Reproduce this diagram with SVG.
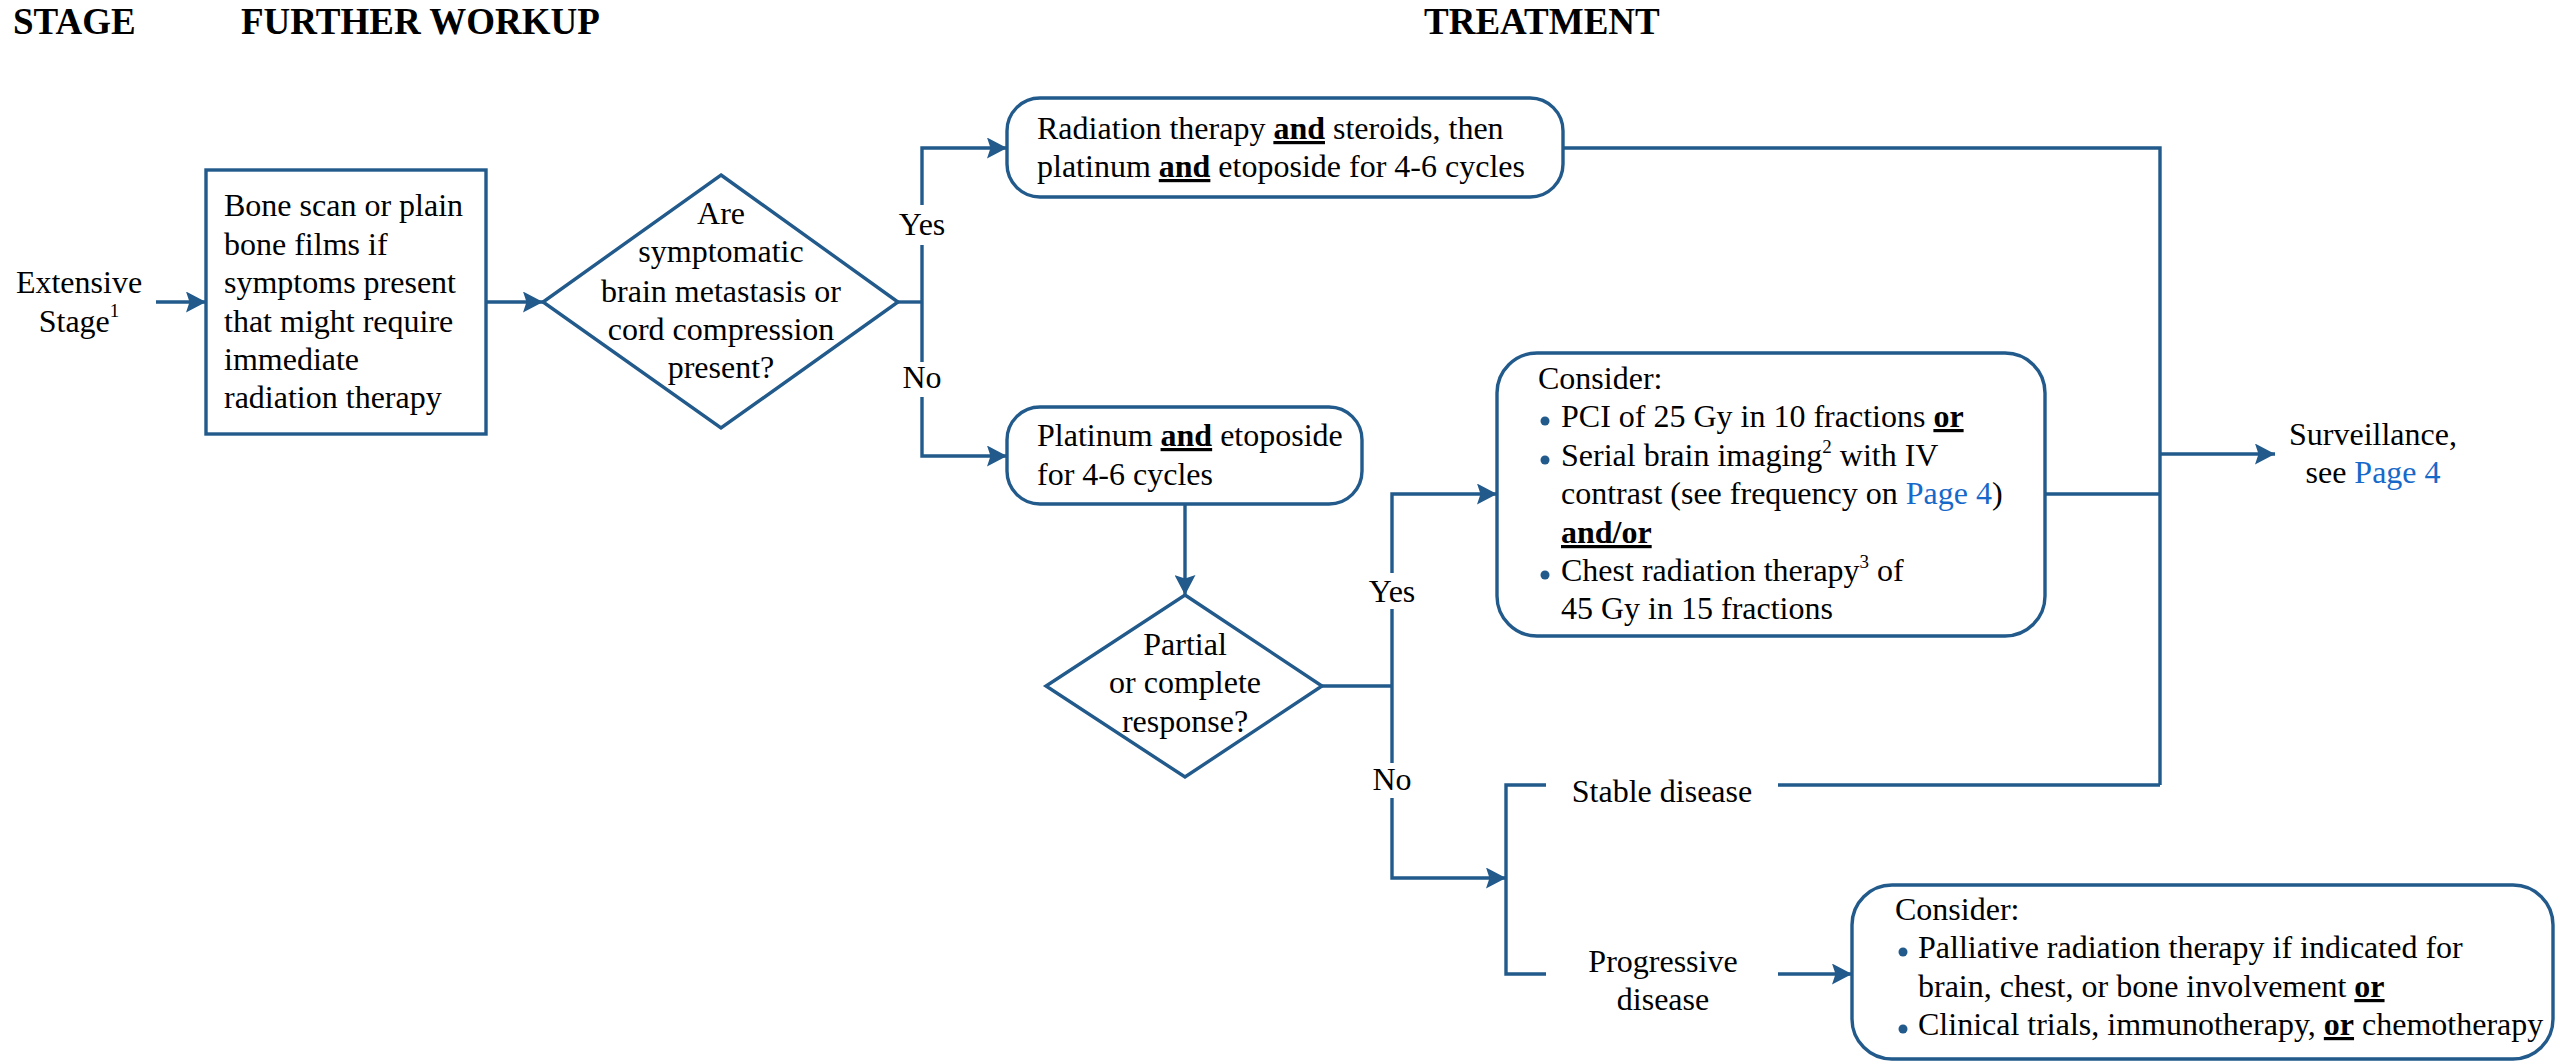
<svg xmlns="http://www.w3.org/2000/svg" width="2567" height="1061" viewBox="0 0 2567 1061">
  <style>
    .t { font-family: "Liberation Serif", "Times New Roman", serif; font-size: 32px; fill: #000; }
    .h { font-family: "Liberation Serif", "Times New Roman", serif; font-size: 37px; font-weight: bold; fill: #000; }
    .m { text-anchor: middle; }
    .u { font-weight: bold; text-decoration: underline; }
    .lk { fill: #1769c9; }
    .sup { font-size: 19px; }
    .box { fill: #fff; stroke: #215a8b; stroke-width: 3.4; }
    .ln { fill: none; stroke: #215a8b; stroke-width: 3.4; }
    .dot { fill: #215a8b; }
  </style>
  <defs>
    <marker id="ah" markerUnits="userSpaceOnUse" markerWidth="21" markerHeight="21" refX="20" refY="10.5" orient="auto">
      <path d="M0,0 L20,10.5 L0,21 L3.5,10.5 Z" fill="#215a8b"/>
    </marker>
  </defs>
  <rect width="2567" height="1061" fill="#fff"/>

  <!-- column headings -->
  <g id="headings">
    <text class="h" x="13" y="34">STAGE</text>
    <text class="h" x="241" y="34">FURTHER WORKUP</text>
    <text class="h" x="1424" y="34">TREATMENT</text>
  </g>

  <!-- connectors -->
  <g id="connectors">
    <path class="ln" d="M156,302 H206" marker-end="url(#ah)"/>
    <path class="ln" d="M486,302 H543" marker-end="url(#ah)"/>
    <!-- first decision: yes / no trunk -->
    <path class="ln" d="M898,302 H922"/>
    <path class="ln" d="M922,205 V148 H1007" marker-end="url(#ah)"/>
    <path class="ln" d="M922,245 V362"/>
    <path class="ln" d="M922,397 V456 H1007" marker-end="url(#ah)"/>
    <!-- platinum to response decision -->
    <path class="ln" d="M1185,504 V595" marker-end="url(#ah)"/>
    <!-- second decision: yes / no trunk -->
    <path class="ln" d="M1322,686 H1392"/>
    <path class="ln" d="M1392,573 V494 H1497" marker-end="url(#ah)"/>
    <path class="ln" d="M1392,609 V763"/>
    <path class="ln" d="M1392,798 V878 H1506" marker-end="url(#ah)"/>
    <!-- stable / progressive bracket -->
    <path class="ln" d="M1546,785 H1506 V974 H1546"/>
    <path class="ln" d="M1778,974 H1852" marker-end="url(#ah)"/>
    <!-- collector to surveillance -->
    <path class="ln" d="M1563,148 H2160 V785"/>
    <path class="ln" d="M2045,494 H2160"/>
    <path class="ln" d="M1778,785 H2160"/>
    <path class="ln" d="M2160,454 H2275" marker-end="url(#ah)"/>
  </g>

  <g id="stage">
    <text class="t m" x="79" y="293">Extensive</text>
    <text class="t m" x="79" y="332">Stage<tspan class="sup" dy="-15">1</tspan></text>
  </g>

  <g id="workup">
    <rect class="box" x="206" y="170" width="280" height="264"/>
    <text class="t" x="224" y="216">Bone scan or plain</text>
    <text class="t" x="224" y="255">bone films if</text>
    <text class="t" x="224" y="293">symptoms present</text>
    <text class="t" x="224" y="332">that might require</text>
    <text class="t" x="224" y="370">immediate</text>
    <text class="t" x="224" y="408">radiation therapy</text>
  </g>

  <g id="decision-brain">
    <path class="box" d="M721,175 L898,302 L721,428 L543,302 Z"/>
    <text class="t m" x="721" y="224">Are</text>
    <text class="t m" x="721" y="262">symptomatic</text>
    <text class="t m" x="721" y="302">brain metastasis or</text>
    <text class="t m" x="721" y="340">cord compression</text>
    <text class="t m" x="721" y="378">present?</text>
  </g>
  <g id="labels-brain">
    <text class="t m" x="922" y="235">Yes</text>
    <text class="t m" x="922" y="388">No</text>
  </g>

  <g id="rt-steroids">
    <rect class="box" x="1007" y="98" width="556" height="99" rx="33"/>
    <text class="t" x="1037" y="139">Radiation therapy <tspan class="u">and</tspan> steroids, then</text>
    <text class="t" x="1037" y="177">platinum <tspan class="u">and</tspan> etoposide for 4-6 cycles</text>
  </g>

  <g id="platinum-etoposide">
    <rect class="box" x="1007" y="407" width="355" height="97" rx="33"/>
    <text class="t" x="1037" y="446">Platinum <tspan class="u">and</tspan> etoposide</text>
    <text class="t" x="1037" y="485">for 4-6 cycles</text>
  </g>

  <g id="decision-response">
    <path class="box" d="M1185,595 L1322,686 L1185,777 L1046,686 Z"/>
    <text class="t m" x="1185" y="655">Partial</text>
    <text class="t m" x="1185" y="693">or complete</text>
    <text class="t m" x="1185" y="732">response?</text>
  </g>
  <g id="labels-response">
    <text class="t m" x="1392" y="602">Yes</text>
    <text class="t m" x="1392" y="790">No</text>
  </g>

  <g id="consider-pci">
    <rect class="box" x="1497" y="353" width="548" height="283" rx="40"/>
    <text class="t" x="1538" y="389">Consider:</text>
    <circle class="dot" cx="1545" cy="421" r="4.5"/>
    <text class="t" x="1561" y="427">PCI of 25 Gy in 10 fractions <tspan class="u">or</tspan></text>
    <circle class="dot" cx="1545" cy="460" r="4.5"/>
    <text class="t" x="1561" y="466">Serial brain imaging<tspan class="sup" dy="-13">2</tspan><tspan dy="13"> with IV</tspan></text>
    <text class="t" x="1561" y="504">contrast (see frequency on <tspan class="lk">Page 4</tspan>)</text>
    <text class="t" x="1561" y="543"><tspan class="u">and/or</tspan></text>
    <circle class="dot" cx="1545" cy="575" r="4.5"/>
    <text class="t" x="1561" y="581">Chest radiation therapy<tspan class="sup" dy="-13">3</tspan><tspan dy="13"> of</tspan></text>
    <text class="t" x="1561" y="619">45 Gy in 15 fractions</text>
  </g>

  <g id="stable">
    <text class="t m" x="1662" y="802">Stable disease</text>
  </g>

  <g id="progressive">
    <text class="t m" x="1663" y="972">Progressive</text>
    <text class="t m" x="1663" y="1010">disease</text>
  </g>

  <g id="consider-palliative">
    <rect class="box" x="1852" y="885" width="701" height="174" rx="40"/>
    <text class="t" x="1895" y="920">Consider:</text>
    <circle class="dot" cx="1903" cy="952" r="4.5"/>
    <text class="t" x="1918" y="958">Palliative radiation therapy if indicated for</text>
    <text class="t" x="1918" y="997">brain, chest, or bone involvement <tspan class="u">or</tspan></text>
    <circle class="dot" cx="1903" cy="1029" r="4.5"/>
    <text class="t" x="1918" y="1035">Clinical trials, immunotherapy, <tspan class="u">or</tspan> chemotherapy</text>
  </g>

  <g id="surveillance">
    <text class="t m" x="2373" y="445">Surveillance,</text>
    <text class="t m" x="2373" y="483">see <tspan class="lk">Page 4</tspan></text>
  </g>
</svg>
